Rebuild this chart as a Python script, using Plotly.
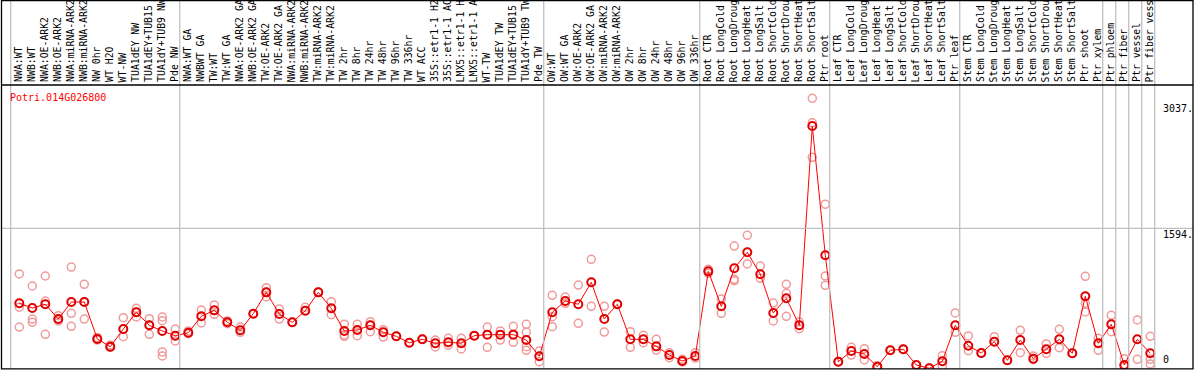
import plotly.graph_objects as go

labels = [
    "NWA:WT", "NWB:WT", "NWA:OE-ARK2", "NWB:OE-ARK2", "NWA:miRNA-ARK2", "NWB:miRNA-ARK2",
    "NW 0hr", "WT H2O", "WT-NW", "TUA1dEY NW", "TUA1dEY+TUB15", "TUA1dY+TUB9 NW", "Pde NW",
    "NWA:WT GA", "NWBWT GA", "TW:WT", "TW:WT GA", "NWA:OE-ARK2 GA", "NWB:OE-ARK2 GA",
    "TW:OE-ARK2", "TW:OE-ARK2 GA", "NWA:miRNA-ARK2 GA", "NWB:miRNA-ARK2 GA", "TW:miRNA-ARK2",
    "TW:miRNA-ARK2", "TW 2hr", "TW 8hr", "TW 24hr", "TW 48hr", "TW 96hr", "TW 336hr", "WT ACC",
    "35S::etr1-1 H2O", "35S::etr1-1 ACC", "LMX5::etr1-1 H2O", "LMX5::etr1-1 ACC", "WT-TW",
    "TUA1dEY TW", "TUA1dEY+TUB15", "TUA1dY+TUB9 TW", "Pde TW",
    "OW:WT", "OW:WT GA", "OW:OE-ARK2", "OW:OE-ARK2 GA", "OW:miRNA-ARK2", "OW:miRNA-ARK2",
    "OW 2hr", "OW 8hr", "OW 24hr", "OW 48hr", "OW 96hr", "OW 336hr",
    "Root CTR", "Root LongCold", "Root LongDrought", "Root LongHeat", "Root LongSalt",
    "Root ShortCold", "Root ShortDrought", "Root ShortHeat", "Root ShortSalt", "Ptr root",
    "Leaf CTR", "Leaf LongCold", "Leaf LongDrought", "Leaf LongHeat", "Leaf LongSalt",
    "Leaf ShortCold", "Leaf ShortDrought", "Leaf ShortHeat", "Leaf ShortSalt", "Ptr leaf",
    "Stem CTR", "Stem LongCold", "Stem LongDrought", "Stem LongHeat", "Stem LongSalt",
    "Stem ShortCold", "Stem ShortDrought", "Stem ShortHeat", "Stem ShortSalt", "Ptr shoot",
    "Ptr xylem", "Ptr phloem", "Ptr fiber", "Ptr vessel", "Ptr fiber vessel",
]

mean_values = [
    740, 687, 729, 561, 755, 755, 334, 246, 447, 638, 490, 425, 371,
    405, 592, 660, 524, 433, 622, 865, 618, 524, 656, 865, 683, 425, 436, 490, 410, 364,
    291, 330, 285, 296, 285, 371, 383, 383, 383, 322, 137,
    638, 766, 729, 979, 561, 729, 330, 330, 250, 151, 83, 140,
    1104, 706, 1139, 1321, 1070, 630, 797, 490, 2759, 1287,
    75, 197, 163, 18, 205, 216, 38, 0, 80, 490,
    257, 174, 303, 91, 322, 109, 216, 330, 171, 820, 285,
    501, 38, 330, 171,
]

replicates = [
    [1074, 695, 470], [937, 561, 524], [1051, 766, 387], [599, 539, 561], [1153, 626, 478],
    [956, 561, 755], [351, 322, 334], [265, 237, 246], [576, 360, 447], [683, 584, 638],
    [565, 387, 490], [584, 542, 186, 140], [447, 311, 371],
    [425, 394], [664, 516], [721, 615], [539, 508], [470, 410], [622, 622], [918, 865, 812],
    [675, 561], [524, 524], [695, 656], [865, 865], [758, 610], [501, 379, 364], [501, 371],
    [531, 417, 490], [440, 356], [364, 364], [291, 291], [330, 330], [322, 243], [342, 265],
    [342, 220], [371, 371], [470, 239], [425, 322], [478, 296], [501, 410, 246, 205], [197, 75],
    [831, 474, 588], [812, 740], [948, 512], [1241, 706], [706, 413], [729, 729], [417, 239],
    [376, 291], [330, 208], [178, 121], [102, 72], [178, 117],
    [1127, 1082], [789, 626], [1392, 1013, 997], [1514, 1188], [1165, 1025], [743, 539],
    [956, 854, 592], [527, 451], [3074, 2796, 2402], [1867, 1051, 945],
    [75, 75], [239, 151], [223, 95], [30, 10], [205, 205], [216, 216], [38, 38], [0, 0],
    [143, 30], [630, 410],
    [368, 200], [174, 174], [360, 303], [91, 91], [433, 178], [140, 100], [277, 171],
    [444, 235], [171, 171], [1048, 641, 740], [342, 205],
    [603, 417], [109, 20], [550, 102], [364, 102, 49],
]

gene_id = "Potri.014G026800"
axis_labels = ["3037.", "1594.", "0"]
axis_values = [3037, 1594, 0]
group_bounds = [0, 13, 41, 53, 63, 73, 84, 85, 86, 87, 88]

W, H = 1194, 370
FONT = "DejaVu Sans Mono"

def px_x(p):
    return p / W

def px_y(p):
    return 1 - p / H

n = len(labels)
idx = list(range(n))

rep_x, rep_y = [], []
for i, reps in enumerate(replicates):
    for v in reps:
        rep_x.append(i)
        rep_y.append(v)

fig = go.Figure()
fig.add_trace(go.Scatter(
    x=rep_x, y=rep_y, mode="markers",
    marker=dict(symbol="circle-open", size=8, color="#F09A9A", line=dict(width=1.5, color="#F09A9A")),
    hoverinfo="skip", showlegend=False,
))
fig.add_trace(go.Scatter(
    x=idx, y=mean_values, mode="lines+markers",
    line=dict(color="#FF0000", width=1),
    marker=dict(symbol="circle-open", size=8, color="#E00000", line=dict(width=2, color="#E00000")),
    showlegend=False,
))

shapes = []
for k in group_bounds:
    shapes.append(dict(type="line", xref="x", yref="paper", x0=k - 0.66, x1=k - 0.66,
                       y0=px_y(369), y1=1, line=dict(color="#C0C0C0", width=1.3)))
shapes.append(dict(type="line", xref="paper", yref="y", x0=px_x(1), x1=px_x(1193), y0=1594, y1=1594,
                   line=dict(color="#C0C0C0", width=1.3)))
shapes.append(dict(type="rect", xref="paper", yref="paper", x0=px_x(1.5), x1=px_x(1193),
                   y0=px_y(368.8), y1=px_y(0.7), line=dict(color="black", width=1.3)))
shapes.append(dict(type="line", xref="paper", yref="paper", x0=px_x(1.5), x1=px_x(1193),
                   y0=px_y(85), y1=px_y(85), line=dict(color="black", width=1.3)))

annotations = []
for i, lab in enumerate(labels):
    annotations.append(dict(
        x=i - 0.07, xref="x", y=px_y(83), yref="paper", text=lab, textangle=-90,
        xanchor="center", yanchor="bottom", showarrow=False, borderpad=0,
        font=dict(family=FONT, size=9.8, color="black"),
    ))
annotations.append(dict(
    x=px_x(9), xref="paper", y=px_y(91), yref="paper", text=gene_id, xanchor="left", yanchor="top",
    showarrow=False, borderpad=0, font=dict(family=FONT, size=10, color="#FF0000"),
))
for lab, v in zip(axis_labels, axis_values):
    annotations.append(dict(
        x=px_x(1162), xref="paper", y=v, yref="y", text=lab, xanchor="left",
        yanchor="bottom" if v == 0 else "top", yshift=2 if v == 0 else 0,
        showarrow=False, borderpad=0, font=dict(family=FONT, size=10, color="black"),
    ))

fig.update_layout(
    width=W, height=H, margin=dict(l=0, r=0, t=0, b=0),
    paper_bgcolor="white", plot_bgcolor="white",
    xaxis=dict(range=[-19.3 / 13, (W - 19.3) / 13], visible=False, domain=[0, 1]),
    yaxis=dict(range=[-8, 3226], visible=False, domain=[px_y(369), px_y(85)]),
    shapes=shapes, annotations=annotations,
)

fig.write_html(
    "out.html",
    config={"displayModeBar": False},
    post_script="document.body.style.margin='0';document.body.style.overflow='hidden';",
)
